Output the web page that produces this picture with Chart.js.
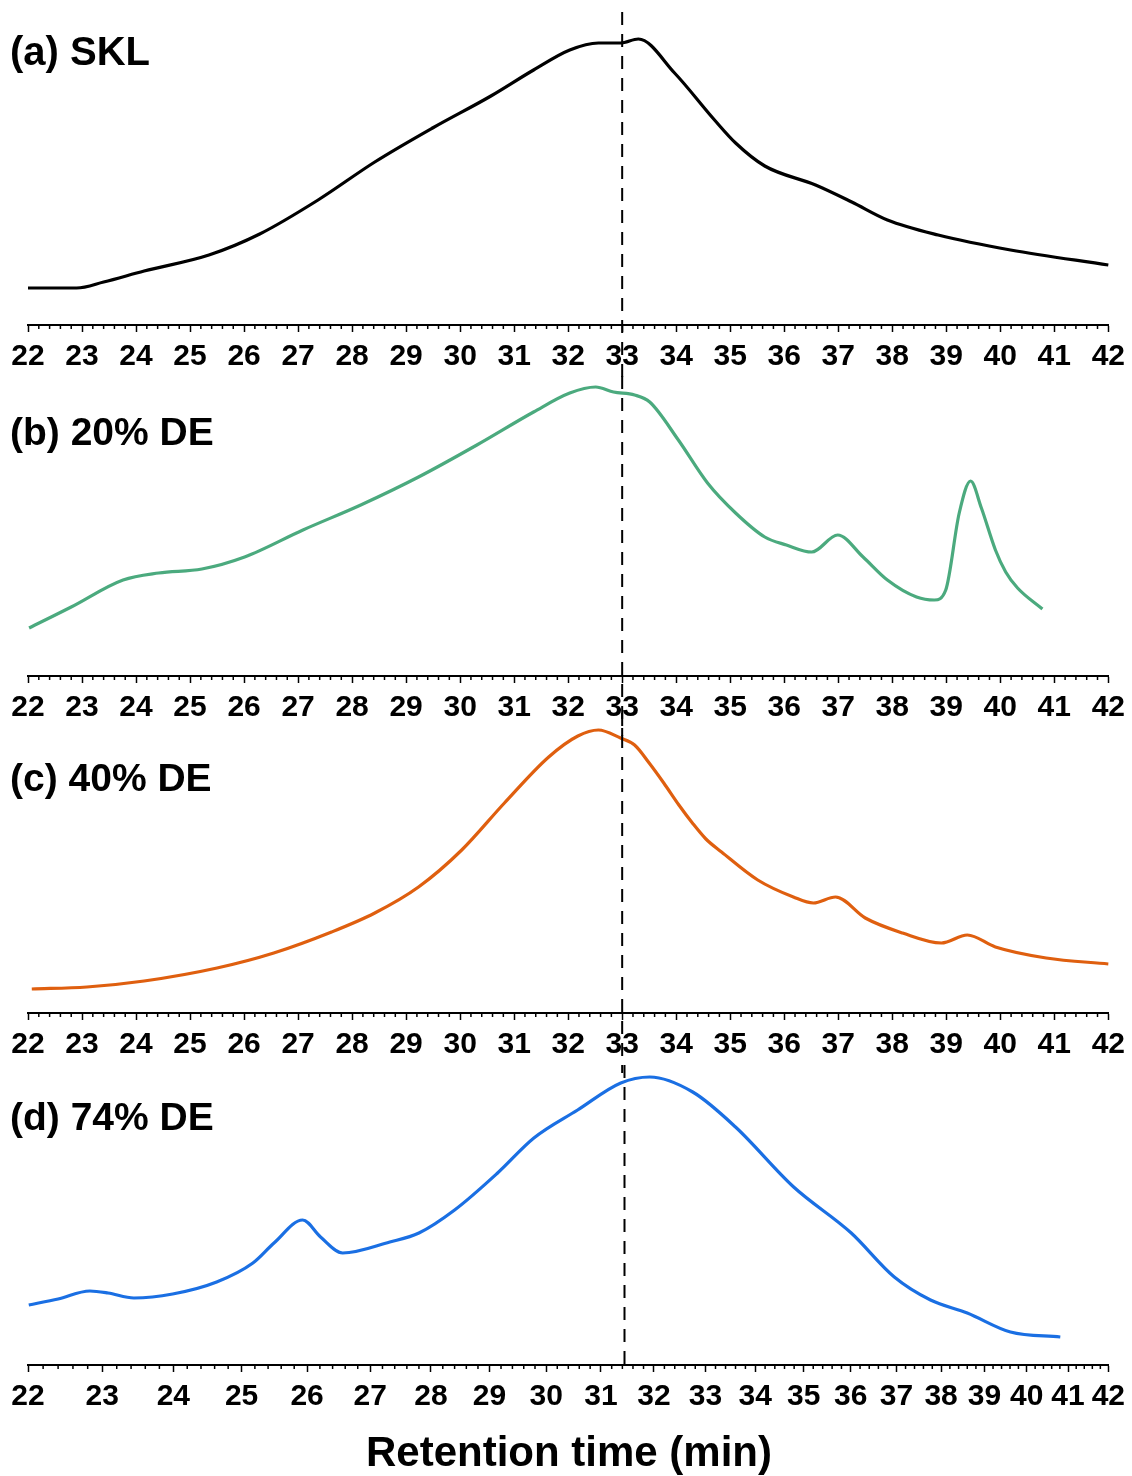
<!DOCTYPE html>
<html>
<head>
<meta charset="utf-8">
<script src="https://cdn.jsdelivr.net/npm/chart.js@4.4.1/dist/chart.umd.min.js"></script>
<style>
  body { margin: 0; background: #fff; }
  #wrap { position: relative; width: 1132px; height: 1476px; overflow: hidden; }
  canvas { position: absolute; left: 0; }
  .lbl { position: absolute; font-family: "Liberation Sans", Arial, sans-serif; font-weight: bold; line-height: 1; white-space: nowrap; color: #000; }
</style>
</head>
<body>
<div id="wrap">
  <canvas id="pa" width="1132" height="385" style="top:0px"></canvas>
  <canvas id="pb" width="1132" height="360" style="top:376px"></canvas>
  <canvas id="pc" width="1132" height="360" style="top:713px"></canvas>
  <canvas id="pd" width="1132" height="360" style="top:1065px"></canvas>
  <div class="lbl" style="left:10px;top:31px;font-size:40px">(a) SKL</div>
  <div class="lbl" style="left:10px;top:412px;font-size:39px">(b) 20% DE</div>
  <div class="lbl" style="left:10px;top:758px;font-size:39px">(c) 40% DE</div>
  <div class="lbl" style="left:10px;top:1097px;font-size:39px">(d) 74% DE</div>
  <div class="lbl" style="left:3px;width:1132px;text-align:center;top:1431px;font-size:42px">Retention time (min)</div>
</div>
<script>
// retention time (min) and detector signal (arbitrary units) for each sample
const timeSKL = [22, 22.5, 22.9, 23.4, 24.15, 25.35, 26.29, 27.37, 28.42, 29.49, 30.57, 31.36, 32.03, 32.56, 32.97, 33.3, 33.97, 34.71, 35.1, 35.64, 36.58, 37.25, 37.91, 38.85, 40.19, 42];
const signalSKL = [37, 37, 37, 43, 54, 70, 91, 125, 163, 197, 229, 255, 275, 282, 282, 286, 252, 205, 182, 159, 140, 123, 105, 90, 75, 60];

const timeDE20 = [22.02, 22.8, 23.76, 24.42, 25.22, 26.01, 27.09, 28.16, 29.23, 30.31, 31.36, 32.03, 32.51, 32.84, 33.23, 33.51, 34.04, 34.58, 35.1, 35.64, 36.04, 36.51, 36.99, 37.46, 37.91, 38.45, 38.78, 38.99, 39.24, 39.45, 39.65, 39.91, 40.1, 40.32, 40.78];
const signalDE20 = [48, 69, 96, 103, 107, 119, 146, 171, 199, 231, 264, 283, 289, 284, 281, 274, 236, 193, 163, 139, 131, 124, 141, 119, 96, 79, 76, 86, 163, 195, 168, 126, 104, 88, 67];

const timeDE40 = [22.07, 23.09, 24.15, 25.5, 26.55, 27.62, 28.42, 29.23, 30.03, 30.82, 31.64, 32.18, 32.56, 32.97, 33.23, 33.5, 33.77, 34.05, 34.3, 34.55, 34.84, 35.51, 36.17, 36.54, 36.95, 37.5, 38.19, 38.91, 39.39, 39.91, 40.85, 42];
const signalDE40 = [24, 26, 32, 45, 60, 81, 100, 126, 163, 210, 256, 277, 283, 275, 268, 250, 230, 208, 190, 174, 161, 133, 116, 110, 116, 95, 80, 70, 78, 66, 55, 49];

const timeDE74 = [22.01, 22.4, 22.83, 23.08, 23.44, 23.99, 24.63, 25.17, 25.49, 25.93, 26.21, 26.56, 27.32, 27.8, 28.4, 29.14, 29.78, 30.57, 31.37, 31.92, 32.75, 33.6, 34.79, 36.01, 36.95, 37.76, 38.6, 39.61, 40.81];
const signalDE74 = [60, 66, 74, 72, 67, 71, 83, 102, 122, 145, 128, 112, 123, 132, 155, 192, 227, 255, 282, 288, 273, 238, 178, 132, 88, 65, 52, 33, 28];

const tickValues = [22, 23, 24, 25, 26, 27, 28, 29, 30, 31, 32, 33, 34, 35, 36, 37, 38, 39, 40, 41, 42];
const minorStep = 0.2;
const markerTime = [33, 33, 33, 31.44];

const tickFont = { family: '"Liberation Sans", Arial, sans-serif', size: 30, weight: 'bold' };

const overlay = {
  id: 'overlay',
  afterDraw(chart, args, opts) {
    const ctx = chart.ctx;
    const sx = chart.scales.x;
    const axisY = sx.top;
    ctx.save();
    ctx.strokeStyle = '#000';
    ctx.lineWidth = 1.5;
    const n = Math.round((sx.max - sx.min) / minorStep);
    for (let i = 0; i <= n; i++) {
      if (i % 5 === 0) continue;
      const px = sx.getPixelForValue(sx.min + i * minorStep);
      ctx.beginPath();
      ctx.moveTo(px, axisY);
      ctx.lineTo(px, axisY + 4);
      ctx.stroke();
    }
    const mx = sx.getPixelForValue(opts.at);
    ctx.setLineDash([13, 9]);
    ctx.lineWidth = 2;
    ctx.beginPath();
    ctx.moveTo(mx, opts.from);
    ctx.lineTo(mx, opts.toAxis ? axisY : chart.height);
    ctx.stroke();
    ctx.restore();
  }
};

function panel(id, times, values, color, xType, padTop, marker) {
  const pts = times.map((t, i) => ({ x: t, y: values[i] }));
  return new Chart(document.getElementById(id), {
    type: 'line',
    data: {
      datasets: [{
        data: pts,
        borderColor: color,
        borderWidth: 3.2,
        pointRadius: 0,
        cubicInterpolationMode: 'monotone',
        fill: false,
        clip: false
      }]
    },
    options: {
      responsive: false,
      animation: false,
      devicePixelRatio: 1,
      layout: { padding: { left: 28, right: 23, top: padTop, bottom: 0 } },
      plugins: {
        legend: { display: false },
        tooltip: { enabled: false },
        overlay: marker
      },
      scales: {
        x: {
          type: xType,
          min: 22,
          max: 42,
          afterBuildTicks: axis => { axis.ticks = tickValues.map(v => ({ value: v })); },
          afterFit: axis => { axis.height = 60; },
          grid: { drawOnChartArea: false, drawTicks: true, tickLength: 7, tickWidth: 1.5, tickColor: '#000' },
          border: { display: true, color: '#000', width: 2 },
          ticks: {
            autoSkip: false, maxRotation: 0, minRotation: 0, padding: 7,
            color: '#000', font: tickFont,
            major: { enabled: false },
            callback: v => String(v)
          }
        },
        y: { display: false, min: 0, max: 300 }
      }
    },
    plugins: [overlay]
  });
}

panel('pa', timeSKL, signalSKL, '#000000', 'linear', 25, { at: markerTime[0], from: 12, toAxis: false });
panel('pb', timeDE20, signalDE20, '#4BAA7E', 'linear', 0, { at: markerTime[1], from: 0, toAxis: false });
panel('pc', timeDE40, signalDE40, '#DF5F0F', 'linear', 0, { at: markerTime[2], from: 0, toAxis: false });
panel('pd', timeDE74, signalDE74, '#1A6FE3', 'logarithmic', 0, { at: markerTime[3], from: 0, toAxis: true });
</script>
</body>
</html>
